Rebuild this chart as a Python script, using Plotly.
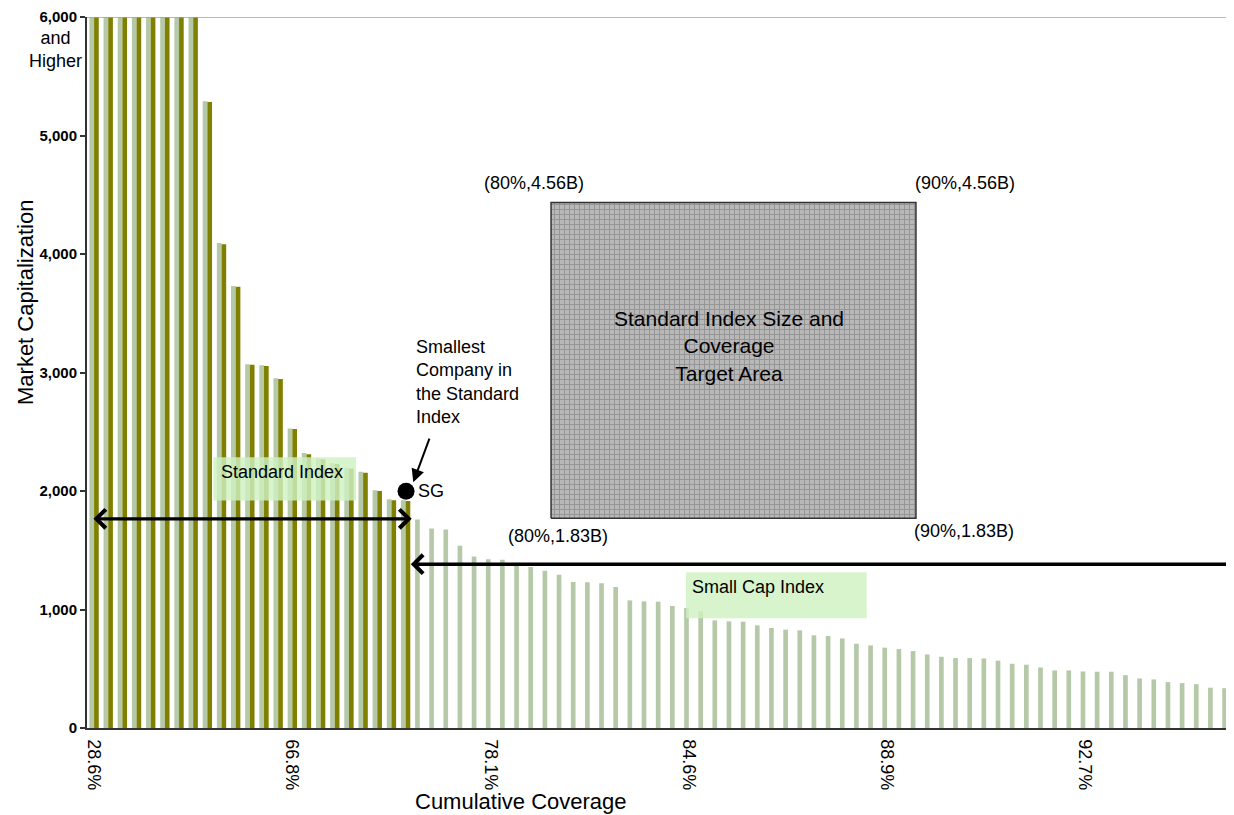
import plotly.graph_objects as go

# ---- data ----
coverage_tick_labels = ["28.6%", "66.8%", "78.1%", "84.6%", "88.9%", "92.7%"]
coverage_tick_index = [0, 14, 28, 42, 56, 70]

# Standard index companies (olive bars), market cap capped at 6,000
standard_olive = [6000, 6000, 6000, 6000, 6000, 6000, 6000, 6000,
                  5282, 4083, 3723, 3065, 3055, 2946, 2523, 2311,
                  2268, 2228, 2190, 2155, 1999, 1922, 1916]
# All companies (light green bars), standard part
all_light_standard = [6000, 6000, 6000, 6000, 6000, 6000, 6000, 6000,
                      5290, 4092, 3731, 3070, 3061, 2951, 2528, 2320,
                      2275, 2235, 2197, 2162, 2007, 1931, 1922]
# All companies (light green bars), small cap part
all_light_smallcap = [1759, 1683, 1675, 1537, 1447, 1424, 1420, 1395, 1359, 1328,
                      1294, 1232, 1229, 1221, 1190, 1077, 1069, 1066, 1030, 1013,
                      985, 908, 900, 897, 866, 844, 830, 824, 782, 776,
                      756, 711, 697, 678, 666, 649, 621, 601, 590, 590,
                      587, 568, 542, 534, 511, 486, 486, 477, 475, 475,
                      446, 418, 410, 387, 379, 370, 340, 336]

light_values = all_light_standard + all_light_smallcap
olive_values = standard_olive + [None] * len(all_light_smallcap)
positions = list(range(len(light_values)))

FONT = "Liberation Sans, Arial, sans-serif"

fig = go.Figure()
fig.add_bar(x=positions, y=light_values, marker_color="#b5c9a8",
            marker_line_width=0, hoverinfo="skip", name="All")
fig.add_bar(x=positions, y=olive_values, marker_color="#808000",
            marker_line_width=0, hoverinfo="skip", name="Standard")

# Target area rectangle (hatched)
rx0, rx1, ry0, ry1 = 32.27, 58.04, 1770, 4435
fig.add_scatter(x=[rx0, rx1, rx1, rx0, rx0], y=[ry0, ry0, ry1, ry1, ry0],
                mode="lines", fill="toself",
                fillpattern=dict(shape="+", bgcolor="#b8b8b8", fgcolor="#727272",
                                 size=5, solidity=0.35),
                line=dict(color="#333333", width=1.5),
                hoverinfo="skip", showlegend=False)

# SG dot
fig.add_scatter(x=[22.03], y=[1998], mode="markers",
                marker=dict(size=17, color="black"),
                hoverinfo="skip", showlegend=False)

shapes = [
    dict(type="line", xref="paper", yref="y", x0=0, x1=1, y0=6000, y1=6000,
         line=dict(color="#a0a0a0", width=1.5), layer="above"),
    dict(type="rect", xref="x", yref="y", x0=8.42, x1=18.5, y0=1920, y1=2285,
         fillcolor="rgba(206,242,194,0.82)", line=dict(width=0), layer="above"),
    dict(type="rect", xref="x", yref="y", x0=41.8, x1=54.56, y0=927, y1=1315,
         fillcolor="rgba(206,242,194,0.82)", line=dict(width=0), layer="above"),
]

txt = dict(family=FONT, size=18, color="black")
annotations = [
    # arrows
    dict(x=22.43, y=1765, ax=-0.15, ay=1765, xref="x", yref="y", axref="x", ayref="y",
         text="", showarrow=True, arrowhead=4, startarrowhead=4, arrowside="end+start",
         arrowwidth=3.3, arrowsize=1.1, startarrowsize=1.1, arrowcolor="black", standoff=0),
    dict(x=80.9, y=1382, ax=22.26, ay=1382, xref="x", yref="y", axref="x", ayref="y",
         text="", showarrow=True, arrowhead=4, startarrowhead=4, arrowside="end+start",
         arrowwidth=3.3, arrowsize=1.1, startarrowsize=1.1, arrowcolor="black", standoff=0),
    dict(x=22.54, y=2074, ax=23.72, ay=2454, xref="x", yref="y", axref="x", ayref="y",
         text="", showarrow=True, arrowhead=2, arrowwidth=2, arrowsize=1.3,
         arrowcolor="black", standoff=0),
    # texts
    dict(x=8.82, y=2159, xref="x", yref="y", text="Standard Index", showarrow=False,
         xanchor="left", yanchor="middle", font=txt),
    dict(x=42.1, y=1194, xref="x", yref="y", text="Small Cap Index", showarrow=False,
         xanchor="left", yanchor="middle", font=txt),
    dict(x=22.6, y=2916, xref="x", yref="y",
         text="Smallest<br>Company in<br>the Standard<br>Index", showarrow=False,
         xanchor="left", yanchor="middle", align="left", font=txt),
    dict(x=22.75, y=1998, xref="x", yref="y", text="SG", showarrow=False,
         xanchor="left", yanchor="middle", font=txt),
    dict(x=44.84, y=3220, xref="x", yref="y",
         text="Standard Index Size and<br>Coverage<br>Target Area", showarrow=False,
         xanchor="center", yanchor="middle", align="center",
         font=dict(family=FONT, size=21, color="black")),
    dict(x=31.1, y=4603, xref="x", yref="y", text="(80%,4.56B)", showarrow=False, font=txt),
    dict(x=61.5, y=4603, xref="x", yref="y", text="(90%,4.56B)", showarrow=False, font=txt),
    dict(x=32.75, y=1617, xref="x", yref="y", text="(80%,1.83B)", showarrow=False, font=txt),
    dict(x=61.45, y=1659, xref="x", yref="y", text="(90%,1.83B)", showarrow=False, font=txt),
    # axis helper texts
    dict(x=(55 - 87) / 1147, y=1 - (49.5 - 17) / 711, xref="paper", yref="paper",
         text="and<br>Higher", showarrow=False, xanchor="center", yanchor="middle",
         align="center", font=txt),
    dict(x=(25 - 87) / 1147, y=1 - (303 - 17) / 711, xref="paper", yref="paper",
         text="Market Capitalization", showarrow=False, textangle=-90,
         xanchor="center", yanchor="middle",
         font=dict(family=FONT, size=22, color="black")),
    dict(x=(521 - 87) / 1147, y=1 - (801 - 17) / 711, xref="paper", yref="paper",
         text="Cumulative Coverage", showarrow=False, xanchor="center", yanchor="middle",
         font=dict(family=FONT, size=22, color="black")),
]

ytick_vals = [0, 1000, 2000, 3000, 4000, 5000, 6000]
ytick_text = ["<b>0</b>", "<b>1,000</b>", "<b>2,000</b>", "<b>3,000</b>",
              "<b>4,000</b>", "<b>5,000</b>", "<b>6,000</b>"]

# The page body has an 8px margin, so the figure is sized/offset to put the
# plot area at the same window pixels as the reference.
fig.update_layout(
    width=1226, height=807,
    margin=dict(l=79, r=0, t=9, b=87, pad=0),
    paper_bgcolor="white", plot_bgcolor="white",
    barmode="group", bargap=0.34, bargroupgap=0,
    showlegend=False,
    font=dict(family=FONT, color="black"),
    shapes=shapes, annotations=annotations,
    xaxis=dict(range=[-0.5, 80.5], showgrid=False, zeroline=False,
               showline=True, linecolor="#333333", linewidth=1.5,
               ticks="", tickmode="array", tickvals=coverage_tick_index,
               ticktext=coverage_tick_labels, tickangle=90,
               tickfont=dict(family=FONT, size=18, color="black"),
               ticklabelstandoff=6),
    yaxis=dict(range=[0, 6000], showgrid=False, zeroline=False,
               showline=True, linecolor="#333333", linewidth=2,
               ticks="outside", ticklen=5, tickcolor="#333333", tickwidth=1.5,
               tickmode="array", tickvals=ytick_vals, ticktext=ytick_text,
               tickfont=dict(family=FONT, size=15, color="black")),
)

fig.write_html("out.html")
